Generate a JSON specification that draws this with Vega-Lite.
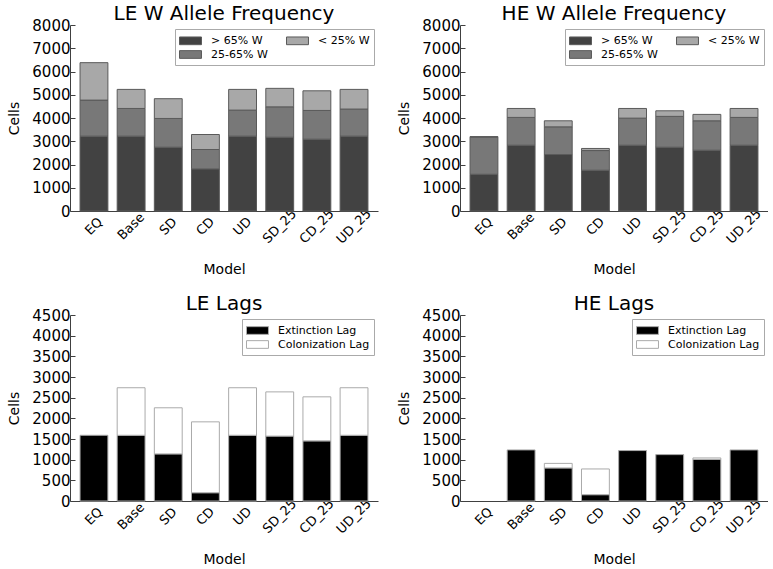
{
  "$schema": "https://vega.github.io/schema/vega-lite/v6.json",
  "padding": {"left": 7, "top": 4, "right": 0, "bottom": 0},
  "background": "white",
  "config": {
    "font": "DejaVu Sans",
    "view": {"stroke": null},
    "title": {"fontSize": 20, "fontWeight": "normal", "color": "black", "offset": -6},
    "axis": {
      "grid": false,
      "domainColor": "#404040",
      "tickColor": "#404040",
      "labelColor": "black",
      "titleColor": "black",
      "titleFontWeight": "normal",
      "titleFontSize": 14,
      "labelFont": "DejaVu Sans",
      "titleFont": "DejaVu Sans"
    },
    "axisX": {"ticks": false, "labelFontSize": 13, "labelAngle": -45, "labelAlign": "center", "labelBaseline": "middle", "labelPadding": 15, "titlePadding": 17},
    "axisY": {"tickSize": -5, "labelFontSize": 15, "labelPadding": 5, "titlePadding": 10, "format": "d"},
    "legend": {
      "orient": "top-right",
      "offset": 4,
      "padding": 4,
      "strokeColor": "#aaaaaa",
      "fillColor": "white",
      "labelFontSize": 11,
      "labelFont": "DejaVu Sans",
      "symbolType": "M-1,-0.55H2.14V0.55H-1Z",
      "symbolSize": 196,
      "symbolStrokeWidth": 1,
      "symbolOpacity": 1,
      "labelOffset": 17,
      "rowPadding": 0,
      "columnPadding": 16,
      "title": null
    }
  },
  "datasets": {
    "freq": [
      {"panel": "LE", "Model": "EQ", "Category": "> 65% W", "level": 1, "Cells": 3220},
      {"panel": "LE", "Model": "EQ", "Category": "25-65% W", "level": 2, "Cells": 1550},
      {"panel": "LE", "Model": "EQ", "Category": "< 25% W", "level": 3, "Cells": 1610},
      {"panel": "LE", "Model": "Base", "Category": "> 65% W", "level": 1, "Cells": 3220},
      {"panel": "LE", "Model": "Base", "Category": "25-65% W", "level": 2, "Cells": 1190},
      {"panel": "LE", "Model": "Base", "Category": "< 25% W", "level": 3, "Cells": 820},
      {"panel": "LE", "Model": "SD", "Category": "> 65% W", "level": 1, "Cells": 2745},
      {"panel": "LE", "Model": "SD", "Category": "25-65% W", "level": 2, "Cells": 1235},
      {"panel": "LE", "Model": "SD", "Category": "< 25% W", "level": 3, "Cells": 850},
      {"panel": "LE", "Model": "CD", "Category": "> 65% W", "level": 1, "Cells": 1810},
      {"panel": "LE", "Model": "CD", "Category": "25-65% W", "level": 2, "Cells": 835},
      {"panel": "LE", "Model": "CD", "Category": "< 25% W", "level": 3, "Cells": 645},
      {"panel": "LE", "Model": "UD", "Category": "> 65% W", "level": 1, "Cells": 3220},
      {"panel": "LE", "Model": "UD", "Category": "25-65% W", "level": 2, "Cells": 1120},
      {"panel": "LE", "Model": "UD", "Category": "< 25% W", "level": 3, "Cells": 890},
      {"panel": "LE", "Model": "SD_25", "Category": "> 65% W", "level": 1, "Cells": 3175},
      {"panel": "LE", "Model": "SD_25", "Category": "25-65% W", "level": 2, "Cells": 1305},
      {"panel": "LE", "Model": "SD_25", "Category": "< 25% W", "level": 3, "Cells": 795},
      {"panel": "LE", "Model": "CD_25", "Category": "> 65% W", "level": 1, "Cells": 3090},
      {"panel": "LE", "Model": "CD_25", "Category": "25-65% W", "level": 2, "Cells": 1235},
      {"panel": "LE", "Model": "CD_25", "Category": "< 25% W", "level": 3, "Cells": 845},
      {"panel": "LE", "Model": "UD_25", "Category": "> 65% W", "level": 1, "Cells": 3220},
      {"panel": "LE", "Model": "UD_25", "Category": "25-65% W", "level": 2, "Cells": 1165},
      {"panel": "LE", "Model": "UD_25", "Category": "< 25% W", "level": 3, "Cells": 845},
      {"panel": "HE", "Model": "EQ", "Category": "> 65% W", "level": 1, "Cells": 1580},
      {"panel": "HE", "Model": "EQ", "Category": "25-65% W", "level": 2, "Cells": 1600},
      {"panel": "HE", "Model": "EQ", "Category": "< 25% W", "level": 3, "Cells": 20},
      {"panel": "HE", "Model": "Base", "Category": "> 65% W", "level": 1, "Cells": 2830},
      {"panel": "HE", "Model": "Base", "Category": "25-65% W", "level": 2, "Cells": 1195},
      {"panel": "HE", "Model": "Base", "Category": "< 25% W", "level": 3, "Cells": 385},
      {"panel": "HE", "Model": "SD", "Category": "> 65% W", "level": 1, "Cells": 2430},
      {"panel": "HE", "Model": "SD", "Category": "25-65% W", "level": 2, "Cells": 1190},
      {"panel": "HE", "Model": "SD", "Category": "< 25% W", "level": 3, "Cells": 260},
      {"panel": "HE", "Model": "CD", "Category": "> 65% W", "level": 1, "Cells": 1755},
      {"panel": "HE", "Model": "CD", "Category": "25-65% W", "level": 2, "Cells": 845},
      {"panel": "HE", "Model": "CD", "Category": "< 25% W", "level": 3, "Cells": 90},
      {"panel": "HE", "Model": "UD", "Category": "> 65% W", "level": 1, "Cells": 2830},
      {"panel": "HE", "Model": "UD", "Category": "25-65% W", "level": 2, "Cells": 1165},
      {"panel": "HE", "Model": "UD", "Category": "< 25% W", "level": 3, "Cells": 415},
      {"panel": "HE", "Model": "SD_25", "Category": "> 65% W", "level": 1, "Cells": 2745},
      {"panel": "HE", "Model": "SD_25", "Category": "25-65% W", "level": 2, "Cells": 1325},
      {"panel": "HE", "Model": "SD_25", "Category": "< 25% W", "level": 3, "Cells": 240},
      {"panel": "HE", "Model": "CD_25", "Category": "> 65% W", "level": 1, "Cells": 2615},
      {"panel": "HE", "Model": "CD_25", "Category": "25-65% W", "level": 2, "Cells": 1265},
      {"panel": "HE", "Model": "CD_25", "Category": "< 25% W", "level": 3, "Cells": 275},
      {"panel": "HE", "Model": "UD_25", "Category": "> 65% W", "level": 1, "Cells": 2830},
      {"panel": "HE", "Model": "UD_25", "Category": "25-65% W", "level": 2, "Cells": 1195},
      {"panel": "HE", "Model": "UD_25", "Category": "< 25% W", "level": 3, "Cells": 385}
    ],
    "lags": [
      {"panel": "LE", "Model": "EQ", "Lag": "Extinction Lag", "level": 1, "Cells": 1590},
      {"panel": "LE", "Model": "Base", "Lag": "Extinction Lag", "level": 1, "Cells": 1590},
      {"panel": "LE", "Model": "Base", "Lag": "Colonization Lag", "level": 2, "Cells": 1150},
      {"panel": "LE", "Model": "SD", "Lag": "Extinction Lag", "level": 1, "Cells": 1140},
      {"panel": "LE", "Model": "SD", "Lag": "Colonization Lag", "level": 2, "Cells": 1115},
      {"panel": "LE", "Model": "CD", "Lag": "Extinction Lag", "level": 1, "Cells": 200},
      {"panel": "LE", "Model": "CD", "Lag": "Colonization Lag", "level": 2, "Cells": 1715},
      {"panel": "LE", "Model": "UD", "Lag": "Extinction Lag", "level": 1, "Cells": 1590},
      {"panel": "LE", "Model": "UD", "Lag": "Colonization Lag", "level": 2, "Cells": 1150},
      {"panel": "LE", "Model": "SD_25", "Lag": "Extinction Lag", "level": 1, "Cells": 1570},
      {"panel": "LE", "Model": "SD_25", "Lag": "Colonization Lag", "level": 2, "Cells": 1070},
      {"panel": "LE", "Model": "CD_25", "Lag": "Extinction Lag", "level": 1, "Cells": 1455},
      {"panel": "LE", "Model": "CD_25", "Lag": "Colonization Lag", "level": 2, "Cells": 1065},
      {"panel": "LE", "Model": "UD_25", "Lag": "Extinction Lag", "level": 1, "Cells": 1590},
      {"panel": "LE", "Model": "UD_25", "Lag": "Colonization Lag", "level": 2, "Cells": 1150},
      {"panel": "HE", "Model": "Base", "Lag": "Extinction Lag", "level": 1, "Cells": 1236},
      {"panel": "HE", "Model": "SD", "Lag": "Extinction Lag", "level": 1, "Cells": 800},
      {"panel": "HE", "Model": "SD", "Lag": "Colonization Lag", "level": 2, "Cells": 110},
      {"panel": "HE", "Model": "CD", "Lag": "Extinction Lag", "level": 1, "Cells": 153},
      {"panel": "HE", "Model": "CD", "Lag": "Colonization Lag", "level": 2, "Cells": 622},
      {"panel": "HE", "Model": "UD", "Lag": "Extinction Lag", "level": 1, "Cells": 1220},
      {"panel": "HE", "Model": "SD_25", "Lag": "Extinction Lag", "level": 1, "Cells": 1122},
      {"panel": "HE", "Model": "CD_25", "Lag": "Extinction Lag", "level": 1, "Cells": 1008},
      {"panel": "HE", "Model": "CD_25", "Lag": "Colonization Lag", "level": 2, "Cells": 34},
      {"panel": "HE", "Model": "UD_25", "Lag": "Extinction Lag", "level": 1, "Cells": 1236}
    ]
  },
  "spacing": 17,
  "resolve": {"scale": {"color": "independent", "y": "independent", "x": "independent"}, "legend": {"color": "independent"}},
  "vconcat": [
    {
      "spacing": 19,
      "resolve": {"scale": {"color": "independent", "y": "independent", "x": "independent"}, "legend": {"color": "independent"}},
      "hconcat": [
        {
          "title": "LE W Allele Frequency",
          "width": 308, "height": 186,
          "data": {"name": "freq"},
          "transform": [{"filter": "datum.panel == 'LE'"}],
          "mark": {"type": "bar", "stroke": "#5a5a5a", "strokeWidth": 1},
          "encoding": {
            "x": {"field": "Model", "type": "nominal", "sort": ["EQ", "Base", "SD", "CD", "UD", "SD_25", "CD_25", "UD_25"], "scale": {"paddingInner": 0.25, "paddingOuter": 0.27}, "title": "Model"},
            "y": {"field": "Cells", "type": "quantitative", "stack": "zero", "scale": {"domain": [0, 8000], "nice": false}, "axis": {"values": [0, 1000, 2000, 3000, 4000, 5000, 6000, 7000, 8000]}, "title": "Cells"},
            "color": {"field": "Category", "type": "nominal", "scale": {"domain": ["> 65% W", "25-65% W", "< 25% W"], "range": ["#424242", "#787878", "#a8a8a8"]}, "legend": {"columns": 2, "symbolStrokeColor": "#5a5a5a"}},
            "order": {"field": "level", "type": "quantitative", "sort": "ascending"}
          }
        },
        {
          "title": "HE W Allele Frequency",
          "width": 308, "height": 186,
          "data": {"name": "freq"},
          "transform": [{"filter": "datum.panel == 'HE'"}],
          "mark": {"type": "bar", "stroke": "#5a5a5a", "strokeWidth": 1},
          "encoding": {
            "x": {"field": "Model", "type": "nominal", "sort": ["EQ", "Base", "SD", "CD", "UD", "SD_25", "CD_25", "UD_25"], "scale": {"paddingInner": 0.25, "paddingOuter": 0.27}, "title": "Model"},
            "y": {"field": "Cells", "type": "quantitative", "stack": "zero", "scale": {"domain": [0, 8000], "nice": false}, "axis": {"values": [0, 1000, 2000, 3000, 4000, 5000, 6000, 7000, 8000]}, "title": "Cells"},
            "color": {"field": "Category", "type": "nominal", "scale": {"domain": ["> 65% W", "25-65% W", "< 25% W"], "range": ["#424242", "#787878", "#a8a8a8"]}, "legend": {"columns": 2, "symbolStrokeColor": "#5a5a5a"}},
            "order": {"field": "level", "type": "quantitative", "sort": "ascending"}
          }
        }
      ]
    },
    {
      "spacing": 19,
      "resolve": {"scale": {"color": "independent", "y": "independent", "x": "independent"}, "legend": {"color": "independent"}},
      "hconcat": [
        {
          "title": "LE Lags",
          "width": 308, "height": 186,
          "data": {"name": "lags"},
          "transform": [{"filter": "datum.panel == 'LE'"}],
          "mark": {"type": "bar", "stroke": "#aaaaaa", "strokeWidth": 1},
          "encoding": {
            "x": {"field": "Model", "type": "nominal", "sort": ["EQ", "Base", "SD", "CD", "UD", "SD_25", "CD_25", "UD_25"], "scale": {"domain": ["EQ", "Base", "SD", "CD", "UD", "SD_25", "CD_25", "UD_25"], "paddingInner": 0.25, "paddingOuter": 0.27}, "title": "Model"},
            "y": {"field": "Cells", "type": "quantitative", "stack": "zero", "scale": {"domain": [0, 4500], "nice": false}, "axis": {"values": [0, 500, 1000, 1500, 2000, 2500, 3000, 3500, 4000, 4500]}, "title": "Cells"},
            "color": {"field": "Lag", "type": "nominal", "scale": {"domain": ["Extinction Lag", "Colonization Lag"], "range": ["#000000", "#ffffff"]}, "legend": {"columns": 1, "symbolStrokeColor": "#aaaaaa"}},
            "order": {"field": "level", "type": "quantitative", "sort": "ascending"}
          }
        },
        {
          "title": "HE Lags",
          "width": 308, "height": 186,
          "data": {"name": "lags"},
          "transform": [{"filter": "datum.panel == 'HE'"}],
          "mark": {"type": "bar", "stroke": "#aaaaaa", "strokeWidth": 1},
          "encoding": {
            "x": {"field": "Model", "type": "nominal", "sort": ["EQ", "Base", "SD", "CD", "UD", "SD_25", "CD_25", "UD_25"], "scale": {"domain": ["EQ", "Base", "SD", "CD", "UD", "SD_25", "CD_25", "UD_25"], "paddingInner": 0.25, "paddingOuter": 0.27}, "title": "Model"},
            "y": {"field": "Cells", "type": "quantitative", "stack": "zero", "scale": {"domain": [0, 4500], "nice": false}, "axis": {"values": [0, 500, 1000, 1500, 2000, 2500, 3000, 3500, 4000, 4500]}, "title": "Cells"},
            "color": {"field": "Lag", "type": "nominal", "scale": {"domain": ["Extinction Lag", "Colonization Lag"], "range": ["#000000", "#ffffff"]}, "legend": {"columns": 1, "symbolStrokeColor": "#aaaaaa"}},
            "order": {"field": "level", "type": "quantitative", "sort": "ascending"}
          }
        }
      ]
    }
  ]
}
